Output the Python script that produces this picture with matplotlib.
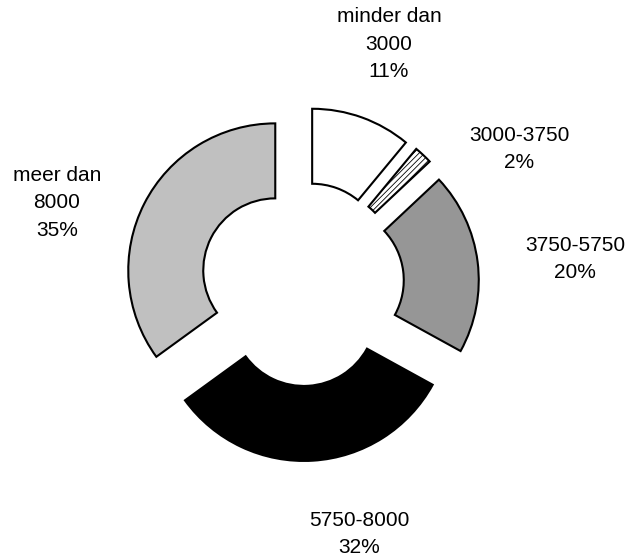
import matplotlib

matplotlib.use("Agg")
import matplotlib.pyplot as plt

plt.rcParams["font.family"] = ["Liberation Sans", "DejaVu Sans"]
plt.rcParams["hatch.linewidth"] = 0.6

categories = ["minder dan\n3000", "3000-3750", "3750-5750", "5750-8000", "meer dan\n8000"]
shares = [11, 2, 20, 32, 35]
fills = ["white", "#e6e6e6", "#969696", "black", "#c0c0c0"]
label_pos = [(389, 44), (519, 149), (575, 259), (359, 534), (57, 203)]


def main():
    fig = plt.figure(figsize=(6.34, 5.58), dpi=100)
    ax = fig.add_axes([0, 0, 1, 1])
    ax.set_xlim(0, 634)
    ax.set_ylim(558, 0)
    ax.axis("off")

    # pie in a normal y-up axes, centre given in pixel space
    pax = fig.add_axes([0, 0, 1, 1])
    wedges, _ = pax.pie(
        shares,
        explode=[30] * len(shares),
        radius=147,
        center=(302, 558 - 284),
        startangle=90,
        counterclock=False,
        colors=fills,
        wedgeprops=dict(width=75, edgecolor="black", linewidth=1.5),
        frame=True,
    )
    pax.set_xlim(0, 634)
    pax.set_ylim(0, 558)
    pax.set_aspect("equal")
    pax.axis("off")
    wedges[1].set_hatch("//////")
    wedges[1].set_facecolor("white")

    for cat, val, (x, y) in zip(categories, shares, label_pos):
        ax.text(x, y, f"{cat}\n{val}%", ha="center", va="center",
                fontsize=15, color="black", linespacing=1.55)

    fig.savefig("out.png", dpi=100)


if __name__ == "__main__":
    main()
